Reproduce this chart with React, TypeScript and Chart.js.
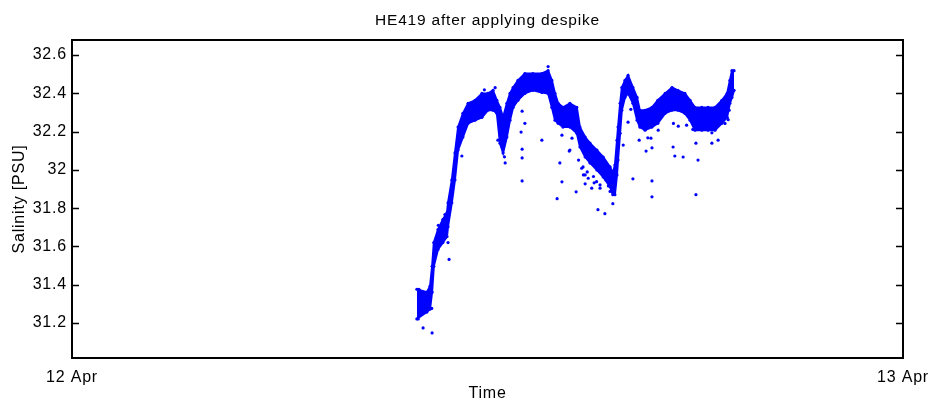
import React, { useEffect, useRef } from 'react';
import { Chart, registerables } from 'chart.js';

Chart.register(...registerables);

const TITLE = 'HE419 after applying despike';
const X_LABEL = 'Time';
const Y_LABEL = 'Salinity [PSU]';

// x is hours since 12 Apr 00:00
const xTickValues = [0, 24];
const xTickLabels = ['12 Apr', '13 Apr'];
const yTickValues = [31.2, 31.4, 31.6, 31.8, 32.0, 32.2, 32.4, 32.6];
const yTickLabels = ['31.2', '31.4', '31.6', '31.8', '32', '32.2', '32.4', '32.6'];

// dense part of the record: upper and lower edge of the cloud of samples
const bandHours = [
  9.96, 10.25, 10.34, 10.40, 10.45, 10.57, 10.71, 10.83, 10.86, 10.97,
  11.06, 11.15, 11.29, 11.44, 11.64, 11.84, 12.01, 12.16, 12.27, 12.36,
  12.45, 12.56, 12.65, 12.74, 12.88, 13.08, 13.31, 13.57, 13.75, 13.86,
  13.95, 14.04, 14.18, 14.38, 14.58, 14.67, 14.82, 14.96, 15.16, 15.34,
  15.54, 15.62, 15.68, 15.74, 15.77, 15.83, 15.88, 15.97, 16.06, 16.20,
  16.32, 16.40, 16.55, 16.75, 16.92, 17.13, 17.33, 17.50, 17.70, 17.85,
  17.99, 18.19, 18.37, 18.57, 18.77, 18.92, 19.00, 19.06, 19.12,
];
const bandUpper = [
  31.376, 31.361, 31.392, 31.496, 31.620, 31.688, 31.740, 31.776, 31.828, 31.947,
  32.088, 32.223, 32.295, 32.347, 32.363, 32.399, 32.399, 32.415, 32.363, 32.326,
  32.274, 32.347, 32.399, 32.430, 32.467, 32.503, 32.503, 32.503, 32.518, 32.467,
  32.399, 32.347, 32.326, 32.347, 32.326, 32.223, 32.171, 32.139, 32.103, 32.067,
  32.015, 31.984, 32.025, 32.155, 32.223, 32.347, 32.430, 32.467, 32.493, 32.430,
  32.378, 32.311, 32.311, 32.326, 32.363, 32.399, 32.430, 32.415, 32.399, 32.363,
  32.326, 32.326, 32.326, 32.326, 32.363, 32.399, 32.467, 32.518, 32.518,
];
const bandLower = [
  31.221, 31.257, 31.272, 31.361, 31.496, 31.584, 31.620, 31.651, 31.703, 31.828,
  31.947, 32.103, 32.171, 32.243, 32.259, 32.274, 32.311, 32.311, 32.295, 32.139,
  32.088, 32.171, 32.259, 32.326, 32.363, 32.399, 32.415, 32.404, 32.399, 32.326,
  32.259, 32.243, 32.223, 32.223, 32.191, 32.119, 32.067, 32.036, 31.999, 31.963,
  31.911, 31.870, 31.870, 31.973, 32.051, 32.191, 32.311, 32.378, 32.399, 32.347,
  32.259, 32.223, 32.207, 32.223, 32.243, 32.295, 32.311, 32.311, 32.295, 32.259,
  32.207, 32.207, 32.207, 32.207, 32.243, 32.274, 32.347, 32.378, 32.415,
];

// isolated samples that lie away from the dense cloud
const spikeHours = [
  10.14, 10.40, 10.89, 11.26, 12.30, 12.51, 13.00, 12.97, 13.00, 13.00,
  13.00, 13.08, 13.57, 14.01, 14.09, 14.15, 14.38, 14.56, 14.76, 14.82,
  15.08, 15.19, 15.25, 15.39, 15.62, 16.20, 16.06, 16.38, 16.58, 16.72,
  16.75, 16.75, 17.36, 17.41, 17.65, 18.02, 18.02, 18.08, 18.48, 18.66,
  13.75, 10.39, 11.91, 12.22, 10.58, 10.77, 10.86, 10.02, 10.00, 16.75,
  15.92, 16.14, 16.63, 16.93, 17.37, 17.51, 17.75, 17.93, 18.48, 18.86,
  18.95, 18.98, 12.49, 14.15, 14.36, 14.44, 14.63, 15.78, 14.72, 14.77,
  14.91, 14.82, 15.01, 15.15, 15.25, 15.42, 15.06, 14.88, 15.30, 15.49,
  15.54,
];
const spikeSalinity = [
  31.174, 31.148, 31.532, 32.072, 32.155, 32.036, 32.306, 32.197, 32.108, 32.062,
  31.942, 32.243, 32.155, 31.849, 32.036, 31.937, 32.103, 31.885, 32.015, 31.973,
  31.932, 31.792, 31.921, 31.771, 31.823, 31.953, 32.249, 32.155, 32.098, 32.165,
  31.942, 31.859, 32.119, 32.072, 32.067, 31.870, 32.139, 32.051, 32.139, 32.155,
  32.539, 31.276, 32.418, 32.429, 31.710, 31.766, 31.620, 31.376, 31.221, 32.115,
  32.129, 32.316, 32.167, 32.207, 32.242, 32.228, 32.233, 32.211, 32.193, 32.242,
  32.262, 32.311, 32.068, 32.181, 32.098, 32.165, 32.051, 32.155, 32.008, 31.973,
  31.956, 31.927, 31.904, 31.938, 31.904, 31.947, 31.965, 31.989, 31.979, 31.916,
  31.887,
];

const Y_MIN = 31.017;
const Y_MAX = 32.678;
const FONT_FAMILY = '"Liberation Sans", Arial, Helvetica, sans-serif';
const BLUE = '#0000ff';

const framePlugin = {
  id: 'matlabFrame',
  beforeDraw(chart: any) {
    chart.ctx.letterSpacing = '0.8px';
  },
  afterDatasetsDraw(chart: any) {
    const { ctx, chartArea: a, scales } = chart;
    ctx.save();
    ctx.strokeStyle = '#000';
    ctx.lineWidth = 2;
    ctx.strokeRect(a.left, a.top, a.right - a.left, a.bottom - a.top);
    ctx.lineWidth = 1.6;
    ctx.beginPath();
    yTickValues.forEach((v) => {
      const y = Math.round(scales.y.getPixelForValue(v)) + 0.5;
      ctx.moveTo(a.left, y);
      ctx.lineTo(a.left + 7, y);
      ctx.moveTo(a.right, y);
      ctx.lineTo(a.right - 7, y);
    });
    ctx.stroke();
    ctx.fillStyle = '#000';
    ctx.font = '15.5px ' + FONT_FAMILY;
    ctx.textAlign = 'center';
    ctx.textBaseline = 'alphabetic';
    ctx.fillText(TITLE, (a.left + a.right) / 2, 25);
    ctx.restore();
  },
};

export default function App() {
  const canvasRef = useRef<HTMLCanvasElement | null>(null);

  useEffect(() => {
    const canvas = canvasRef.current;
    if (!canvas) return;
    const upper = bandHours.map((t, i) => ({ x: t, y: bandUpper[i] }));
    const lower = bandHours.map((t, i) => ({ x: t, y: bandLower[i] }));
    const spikes = spikeHours.map((t, i) => ({ x: t, y: spikeSalinity[i] }));
    const font = { family: FONT_FAMILY, size: 16 };

    const chart = new Chart(canvas, {
      type: 'line',
      data: {
        datasets: [
          {
            data: upper,
            borderColor: BLUE,
            borderWidth: 2,
            pointRadius: 1.6,
            pointBorderWidth: 0,
            pointBackgroundColor: BLUE,
            tension: 0,
            fill: false,
          },
          {
            data: lower,
            borderColor: BLUE,
            borderWidth: 2,
            backgroundColor: BLUE,
            pointRadius: 1.6,
            pointBorderWidth: 0,
            pointBackgroundColor: BLUE,
            tension: 0,
            fill: '-1',
          },
          {
            data: spikes,
            showLine: false,
            pointRadius: 1.6,
            pointBorderWidth: 0,
            pointBackgroundColor: BLUE,
            borderColor: BLUE,
          },
        ],
      },
      options: {
        animation: false,
        responsive: false,
        devicePixelRatio: 1,
        layout: { padding: { top: 40, right: 27, bottom: 0, left: 0 } },
        plugins: {
          legend: { display: false },
          title: { display: false },
          tooltip: { enabled: false },
        },
        scales: {
          x: {
            type: 'linear',
            min: 0,
            max: 24,
            afterBuildTicks: (s: any) => {
              s.ticks = xTickValues.map((v) => ({ value: v }));
            },
            afterFit: (s: any) => {
              s.height = 45;
              s.paddingLeft = 0;
              s.paddingRight = 0;
            },
            grid: { display: false, drawTicks: false },
            border: { display: false },
            ticks: {
              font,
              color: '#000',
              padding: 10,
              maxRotation: 0,
              autoSkip: false,
              callback: (_v: any, i: number) => xTickLabels[i],
            },
            title: { display: true, text: X_LABEL, font, color: '#000', padding: { top: 0, bottom: 0 } },
          },
          y: {
            type: 'linear',
            min: Y_MIN,
            max: Y_MAX,
            afterBuildTicks: (s: any) => {
              s.ticks = yTickValues.map((v) => ({ value: v }));
            },
            afterFit: (s: any) => {
              s.width = 72;
              s.paddingTop = 0;
              s.paddingBottom = 0;
            },
            grid: { display: false, drawTicks: false },
            border: { display: false },
            ticks: {
              font,
              color: '#000',
              padding: 5,
              callback: (_v: any, i: number) => yTickLabels[i],
            },
            title: { display: true, text: Y_LABEL, font, color: '#000', padding: { top: 10, bottom: 0 } },
          },
        },
      },
      plugins: [framePlugin],
    });
    return () => chart.destroy();
  }, []);

  return (
    <div style={{ position: 'fixed', left: 0, top: 0, width: 930, height: 403, background: '#fff' }}>
      <canvas ref={canvasRef} width={930} height={403} style={{ display: 'block' }} />
    </div>
  );
}
